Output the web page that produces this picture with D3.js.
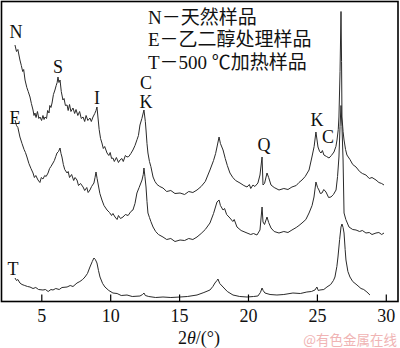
<!DOCTYPE html>
<html><head><meta charset="utf-8">
<script src="https://cdn.jsdelivr.net/npm/d3@7"></script>
<style>
html,body{margin:0;padding:0;background:#fff;}
svg{display:block;}
text{font-family:"Liberation Serif","Times New Roman","Noto Sans CJK SC",serif;fill:#111;}
</style></head>
<body><svg id="c" width="400" height="348"></svg>
<script>
// ---- data: [2θ (°), intensity (a.u.)] ----
const seriesN = [[3.09,256.5],[3.2,250],[3.3,252],[3.45,241.5],[3.55,236],[3.65,230],[3.72,232],[3.82,221.5],[3.95,214],[4.05,210],[4.18,204.5],[4.28,198],[4.40,191.5],[4.47,186],[4.54,188.5],[4.62,184],[4.72,190],[4.82,183],[4.91,184.5],[5.02,181],[5.12,186],[5.2,182],[5.27,184.5],[5.38,183],[5.46,191],[5.56,188.5],[5.62,196],[5.70,194],[5.78,198.5],[5.88,207],[5.99,211.5],[6.08,216],[6.15,219],[6.21,224.5],[6.28,219],[6.36,221.5],[6.45,210],[6.57,201.5],[6.65,203],[6.75,196],[6.87,196.5],[6.95,191],[7.05,197],[7.15,190],[7.30,193.5],[7.42,188],[7.52,192],[7.65,186],[7.78,190],[7.9,183],[8.03,184.5],[8.15,180],[8.25,186],[8.38,181],[8.53,183.5],[8.63,180],[8.75,184.5],[8.88,188],[8.97,191],[9.04,194.5],[9.11,184.5],[9.2,172],[9.30,163],[9.40,158.5],[9.5,153],[9.6,155],[9.77,148.5],[9.9,146],[10.0,149],[10.1,143],[10.20,143.5],[10.3,140],[10.45,144],[10.6,139],[10.71,141.5],[10.85,143],[10.95,140],[11.1,146],[11.22,144.5],[11.35,145],[11.5,148],[11.65,151.5],[11.8,156],[11.95,162],[12.05,166],[12.16,176.5],[12.3,183],[12.45,191.5],[12.55,180],[12.60,171.5],[12.67,158],[12.74,148.5],[12.85,140],[12.95,135],[13.11,124.5],[13.25,120],[13.4,117],[13.6,115],[13.83,113.5],[14.1,110],[14.4,111],[14.7,108],[15.07,108.5],[15.4,107],[15.7,110],[16.0,109],[16.30,111.5],[16.6,115],[16.9,120],[17.24,131.5],[17.5,141],[17.65,148],[17.75,154.5],[17.90,164.5],[18.0,158],[18.19,151.5],[18.35,143],[18.5,136],[18.69,128.5],[18.9,124],[19.1,121],[19.42,118.5],[19.7,116],[19.93,114.5],[20.1,117],[20.2,113],[20.36,116.5],[20.5,115],[20.72,118.5],[20.87,126.5],[21.02,144.5],[21.09,116.5],[21.2,118],[21.38,128.5],[21.5,124],[21.67,116.5],[21.9,114],[22.25,111.5],[22.6,113],[22.9,112],[23.19,114.5],[23.5,116],[23.7,119],[23.92,121.5],[24.15,125],[24.43,131.5],[24.64,144.5],[24.8,155],[24.93,169.5],[25.08,154.5],[25.2,150],[25.30,148.5],[25.4,151],[25.51,146.5],[25.7,145],[25.88,143.5],[26.05,146],[26.24,149.5],[26.38,155],[26.46,161.5],[26.55,172],[26.60,184.5],[26.68,230],[26.75,290],[26.79,240],[26.82,184.5],[26.9,170],[26.97,161.5],[27.08,152],[27.18,146.5],[27.4,142],[27.6,137],[27.84,134.5],[28.1,130],[28.3,128],[28.56,126.5],[28.8,123],[29.0,124],[29.29,121.5],[29.5,119],[29.7,118],[29.87,116.5]];

const seriesE = [[3.09,181.5],[3.2,176],[3.3,174],[3.45,164.5],[3.6,158],[3.75,152],[3.85,149],[3.96,144.5],[4.1,138],[4.25,133],[4.40,128.5],[4.5,124],[4.6,126],[4.76,121.5],[4.9,119],[5.0,124],[5.12,122.5],[5.25,126],[5.35,125],[5.49,128.5],[5.6,133],[5.7,135],[5.85,138.5],[5.95,141],[6.05,145],[6.14,148.5],[6.25,150],[6.36,153.5],[6.43,148],[6.50,144.5],[6.6,137],[6.7,132],[6.87,128.5],[6.95,130],[7.05,124],[7.2,127],[7.35,121],[7.45,124],[7.59,121.5],[7.7,116],[7.85,118],[8.03,114.5],[8.15,111],[8.3,114],[8.4,109],[8.53,111.5],[8.65,115],[8.82,118.5],[8.9,124],[8.97,129.5],[9.05,123],[9.11,118.5],[9.25,108],[9.40,101.5],[9.55,96],[9.77,91.5],[9.95,89],[10.1,86],[10.2,88],[10.35,84.5],[10.5,82],[10.6,86],[10.75,83],[10.93,84.5],[11.1,87],[11.3,86],[11.5,90],[11.65,91.5],[11.8,98],[11.94,108.5],[12.1,114],[12.31,121.5],[12.4,127],[12.45,133.5],[12.52,125],[12.60,114.5],[12.67,100],[12.74,88.5],[12.85,84],[12.95,80],[13.11,74.5],[13.3,70],[13.5,67],[13.83,64.5],[14.1,62],[14.4,63],[14.7,60],[15.07,61.5],[15.4,61],[15.7,63],[16.0,62],[16.30,64.5],[16.6,68],[16.9,72],[17.24,78.5],[17.5,88],[17.75,99.5],[17.90,101.5],[18.0,96],[18.19,91.5],[18.3,93],[18.45,87],[18.69,83.5],[18.9,80],[19.0,82],[19.20,74.5],[19.5,71],[19.93,68.5],[20.2,67],[20.4,68],[20.65,66.5],[20.87,71.5],[21.02,94.5],[21.09,79.5],[21.2,77],[21.38,84.5],[21.5,79],[21.67,73.5],[21.9,70],[22.25,68.5],[22.6,70],[22.9,69],[23.19,71.5],[23.5,74],[23.7,76],[23.92,78.5],[24.2,82],[24.43,88.5],[24.65,96],[24.79,104.5],[24.93,119.5],[25.05,114],[25.15,111.5],[25.25,108],[25.37,108.5],[25.5,112],[25.66,109.5],[25.85,104],[26.02,104.5],[26.2,107],[26.39,111.5],[26.5,125],[26.60,144.5],[26.68,175],[26.75,196],[26.82,175],[26.90,141.5],[26.97,88.5],[27.1,82],[27.33,74.5],[27.6,72],[27.84,71.5],[28.1,70],[28.3,71],[28.56,68.5],[28.8,69],[29.0,67],[29.29,68.5],[29.5,69],[29.7,67],[29.87,68.5]];

const seriesT = [[3.09,23.5],[3.2,21],[3.3,22],[3.45,18.5],[3.6,17],[3.8,16],[4.0,15],[4.18,14.5],[4.4,13],[4.6,14],[4.8,12],[5.12,11.5],[5.3,12],[5.5,10],[5.7,12],[5.85,11.5],[6.05,13],[6.3,12],[6.5,14],[6.87,14.5],[7.1,16],[7.3,15],[7.59,18.5],[7.8,20],[8.0,22],[8.17,24.5],[8.35,28],[8.53,34.5],[8.7,40],[8.82,43.5],[8.92,42],[9.04,38.5],[9.15,31],[9.26,24.5],[9.45,18],[9.62,14.5],[9.9,11],[10.20,8.5],[10.5,8],[10.8,6],[11.22,6.5],[11.6,5],[12.16,5.5],[12.35,7],[12.45,8.5],[12.55,6],[12.8,5],[13.3,4],[13.83,4.5],[14.4,4],[15.07,4.5],[15.6,5],[16.30,6.5],[16.8,9],[17.24,11.5],[17.45,15],[17.6,18.5],[17.75,21],[17.82,22.5],[17.95,18],[18.19,14.5],[18.5,10],[18.91,6.5],[19.4,5],[19.93,4.5],[20.4,5],[20.72,5.5],[20.9,9],[21.02,13.5],[21.1,11],[21.23,8.5],[21.6,7],[22.10,6.5],[22.6,7],[23.26,8.5],[23.8,8],[24.27,9.5],[24.6,10],[24.86,11.5],[25.0,14.5],[25.1,11],[25.22,11.5],[25.5,12],[25.73,14.5],[26.0,17],[26.2,21],[26.31,24.5],[26.45,35],[26.53,44.5],[26.65,62],[26.75,74.5],[26.82,77.5],[26.90,74],[26.97,68.5],[27.05,52],[27.11,41.5],[27.25,30],[27.40,24.5],[27.6,20],[27.91,16.5],[28.2,13],[28.4,12],[28.63,9.5],[28.85,6.5]];

const xTicks = [5, 10, 15, 20, 25, 30];
// peak / curve labels anchored at [2θ, intensity]
const peakLabels = [["N",3.16,269.5],["S",6.21,234.5],["I",9.04,203.5],["C",12.6,218.5],["K",12.6,199.5],
  ["E",3.09,183.5],["T",2.95,32.5],["Q",21.16,156.5],["K",25.0,181.5],["C",25.8,164.5]];
const legendLines = ["N－天然样品", "E－乙二醇处理样品", "T－500 ℃加热样品"];
const watermark = "@有色金属在线";

// ---- drawing ----
const svg = d3.select("#c");
const x = d3.scaleLinear().domain([2.112, 30.886]).range([1.5, 398]);
const y = d3.scaleLinear().domain([0, 300]).range([301.5, 1.5]);

const line = d3.line().x(d => x(d[0])).y(d => y(d[1]));
[seriesN, seriesE, seriesT].forEach(s => {
  svg.append("path").datum(s).attr("d", line)
    .attr("fill", "none").attr("stroke", "#2a2a2a").attr("stroke-width", 1)
    .attr("stroke-linejoin", "round");
});

// frame
svg.append("rect").attr("x", 1.5).attr("y", 1.5).attr("width", 396.5).attr("height", 300)
  .attr("fill", "none").attr("stroke", "#000").attr("stroke-width", 1.6);

// bottom axis, inward ticks
const ax = svg.append("g").attr("transform", "translate(0,301.5)")
  .call(d3.axisBottom(x).tickValues(xTicks).tickSize(-7).tickPadding(8).tickFormat(d3.format("d")));
ax.select(".domain").remove();
ax.selectAll(".tick line").attr("stroke", "#000").attr("stroke-width", 1.2);
ax.selectAll("text").style("font-family", "'Liberation Serif',serif").style("font-size", "18px").attr("fill", "#111");

// axis title
const t = svg.append("text").attr("x", 199).attr("y", 344).attr("text-anchor", "middle")
  .style("font-size", "18px");
t.append("tspan").text("2");
t.append("tspan").style("font-style", "italic").text("θ");
t.append("tspan").text("/(°)");

// peak labels
svg.selectAll("text.pk").data(peakLabels).enter().append("text").attr("class", "pk")
  .attr("x", d => x(d[1])).attr("y", d => y(d[2])).attr("dy", "0.35em")
  .attr("text-anchor", "middle").style("font-size", "18px").text(d => d[0]);

// legend
svg.selectAll("text.lg").data(legendLines).enter().append("text").attr("class", "lg")
  .attr("x", 148).attr("y", (d, i) => 17 + i * 22.5).attr("dy", "0.35em")
  .style("font-size", "19px").text(d => d);

// watermark
svg.append("text").attr("x", 397).attr("y", 345).attr("text-anchor", "end")
  .style("font-family", "'Noto Sans CJK SC',sans-serif").style("font-size", "13.5px")
  .style("fill", "#f0b4b4").text(watermark);
</script></body></html>
